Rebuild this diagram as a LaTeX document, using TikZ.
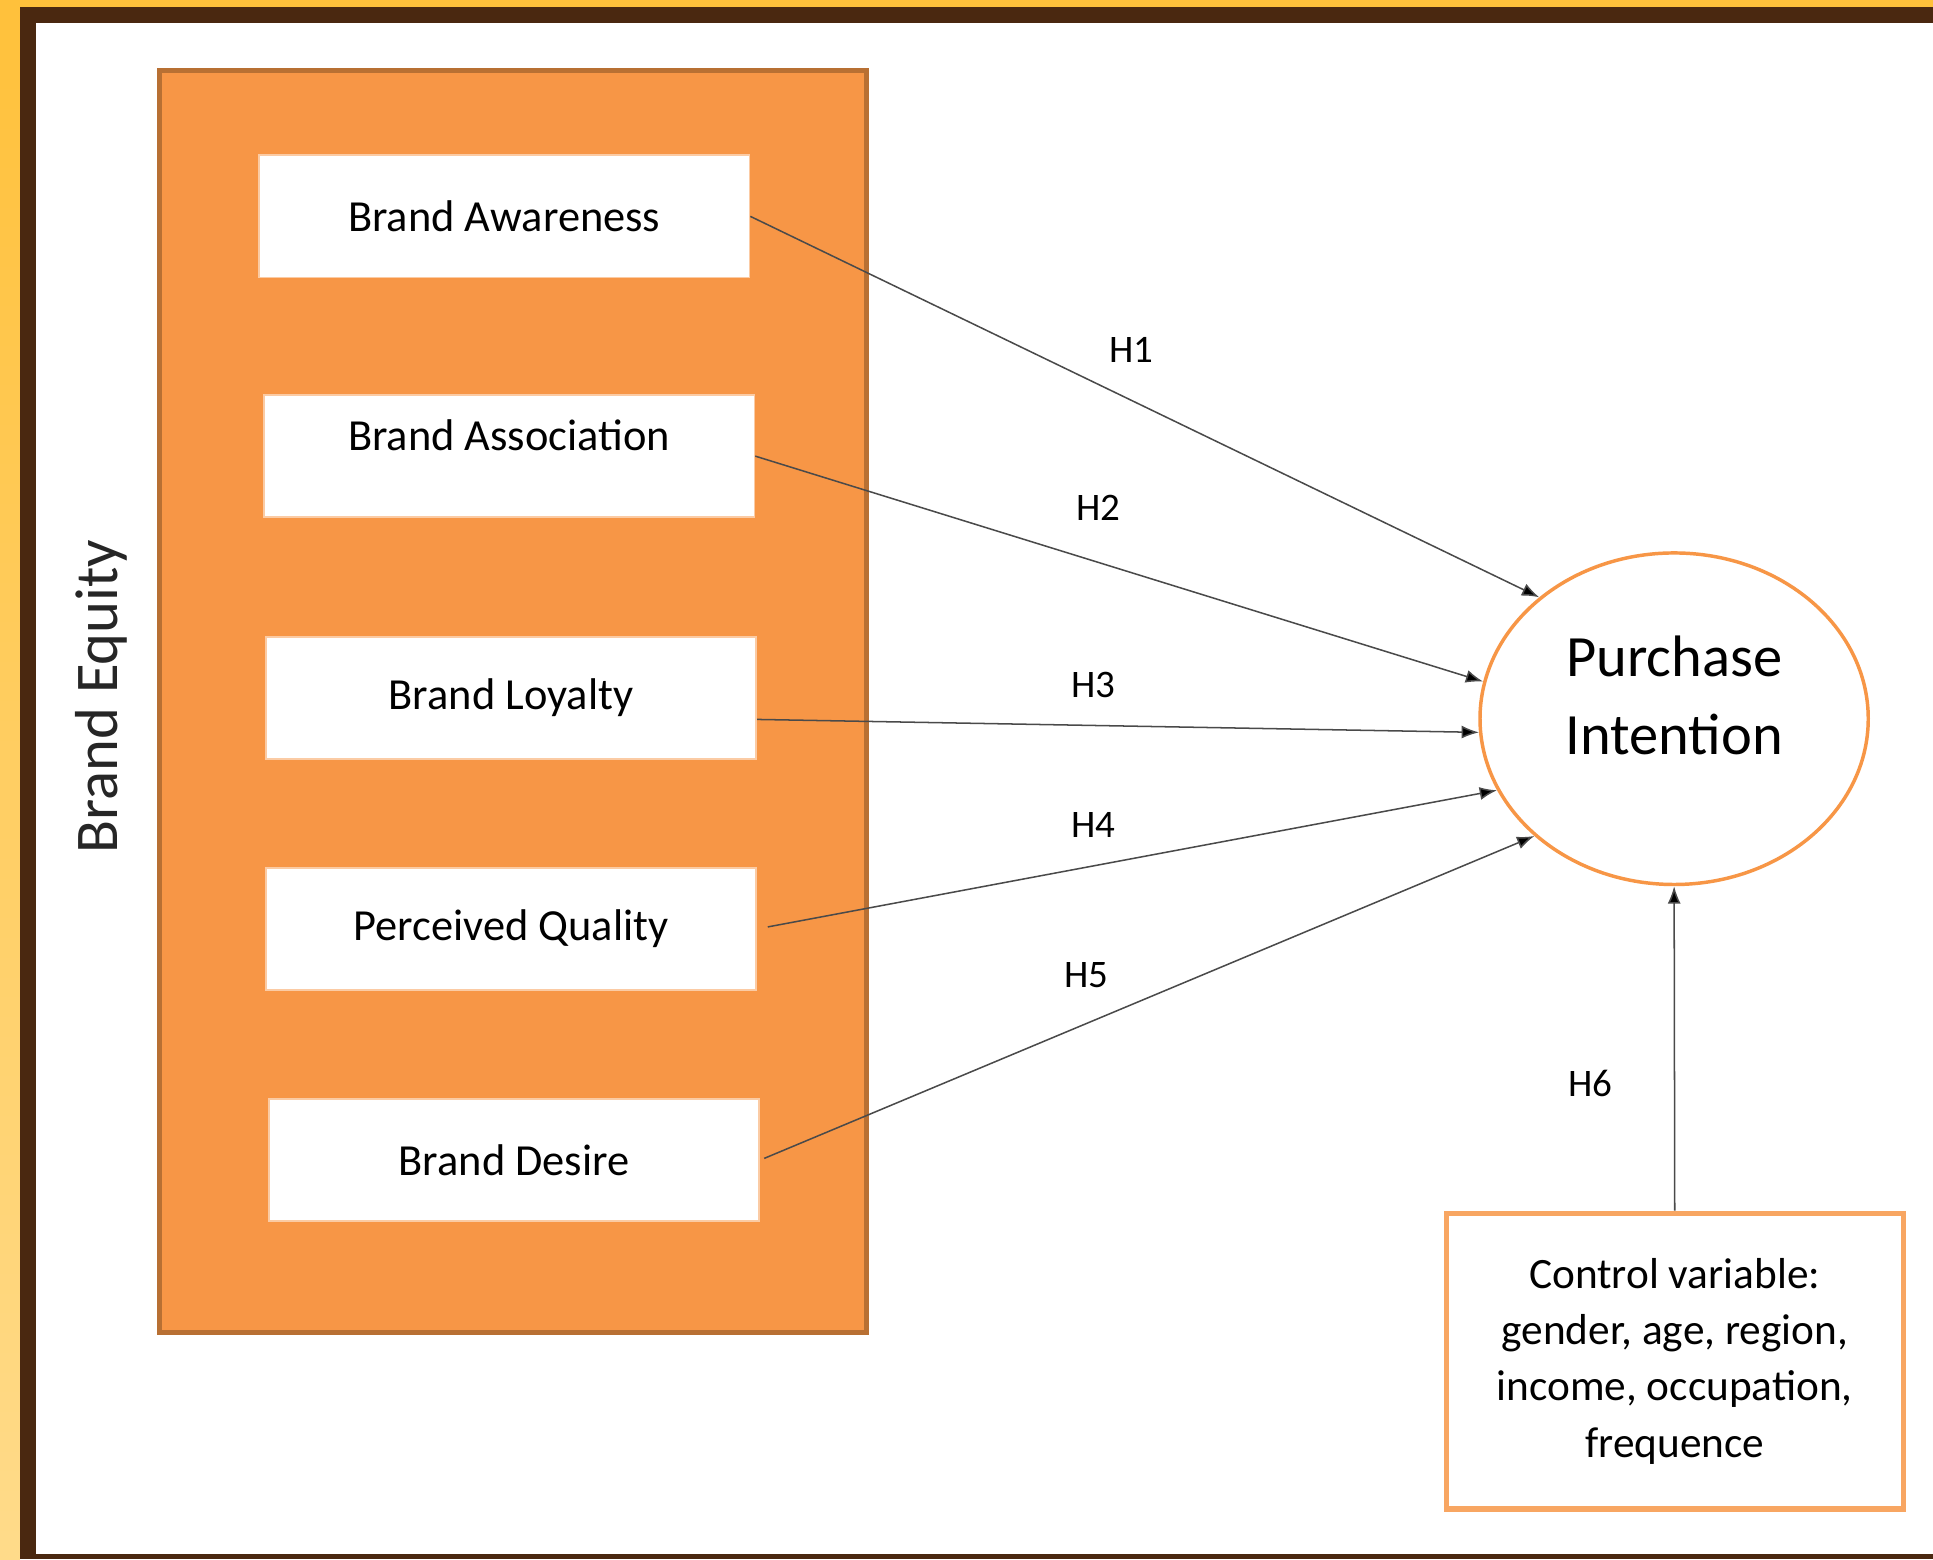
\documentclass[tikz,border=0pt]{standalone}
\usepackage{fontspec}
\setmainfont{Carlito}
\usetikzlibrary{shapes.geometric,arrows.meta}
\definecolor{eqfill}{HTML}{F79646}
\definecolor{eqedge}{HTML}{B87033}
\definecolor{boxedge}{HTML}{FBCBA4}
\definecolor{ylwtop}{HTML}{FFC13B}
\definecolor{ylwbot}{HTML}{FFDB8A}
\definecolor{brn}{HTML}{4A2810}
\definecolor{lnk}{HTML}{4A4A4A}
\begin{document}
\begin{tikzpicture}[x=0.02cm,y=-0.02cm,
  dimbox/.style={draw=boxedge, fill=white, line width=0.8pt, minimum width=7.96cm, minimum height=1.98cm, font=\fontsize{20.5}{24}\selectfont},
  hlabel/.style={font=\fontsize{18}{22}\selectfont},
  link/.style={draw=lnk, line width=0.7pt, -{Latex[length=8pt,width=6pt,fill=black]}}]
  \useasboundingbox (0,0) rectangle (1568,1265);
  % frame
  \fill[white] (0,0) rectangle (1568,1265);
  \shade[top color=ylwtop, bottom color=ylwbot] (0,0) rectangle (16.2,1265);
  \fill[ylwtop] (0,0) rectangle (1568,5.7);
  \fill[brn] (16.2,5.7) rectangle (29.2,1265);
  \fill[brn] (16.2,5.7) rectangle (1568,18.7);
  \fill[brn] (16.2,1260.5) rectangle (1568,1265);
  % brand equity block
  \draw[line width=2.3pt, draw=eqedge, fill=eqfill] (129,57) rectangle (703,1081);
  \node[rotate=90, font=\fontsize{28}{32}\selectfont, text=black!85] (equity) at (82,565) {Brand Equity};
  \node[dimbox] (aw) at (409,175.5) {Brand Awareness};
  \node[dimbox, text depth=19pt] (as) at (413,370) {Brand Association};
  \node[dimbox] (lo) at (414.5,566) {Brand Loyalty};
  \node[dimbox] (qu) at (414.5,753.5) {Perceived Quality};
  \node[dimbox] (de) at (417,941) {Brand Desire};
  % outcome and control
  \node[draw=eqfill, ellipse, line width=1.6pt, minimum width=6.3cm, minimum height=5.38cm] (pi) at (1358,583) {};
  \node[align=center, font=\fontsize{27}{36}\selectfont] (pitext) at (1358,564) {Purchase\\Intention};
  \node[draw=eqfill!85, fill=white, line width=2.4pt, minimum width=7.42cm, minimum height=4.8cm, align=center, font=\fontsize{20}{26}\selectfont] (ctrl) at (1358.5,1104) {Control variable:\\gender, age, region,\\income, occupation,\\frequence};
  % hypotheses
  \path (aw.east) edge[link] (pi.138.8);
  \path (as.east) edge[link] (pi.169.7);
  \path ([yshift=-10pt]lo.east) edge[link] (pi.184.9);
  \path (qu.east) edge[link, shorten <=5pt] (pi.202);
  \path (de.east) edge[link, shorten <=2pt] (pi.220.6);
  \path (ctrl.north) edge[link] (pi.south);
  \node[hlabel] (h1) at (918,284) {H1};
  \node[hlabel] (h2) at (891,412) {H2};
  \node[hlabel] (h3) at (887,556) {H3};
  \node[hlabel] (h4) at (887,669) {H4};
  \node[hlabel] (h5) at (881,791) {H5};
  \node[hlabel] (h6) at (1290,879) {H6};
\end{tikzpicture}
\end{document}
